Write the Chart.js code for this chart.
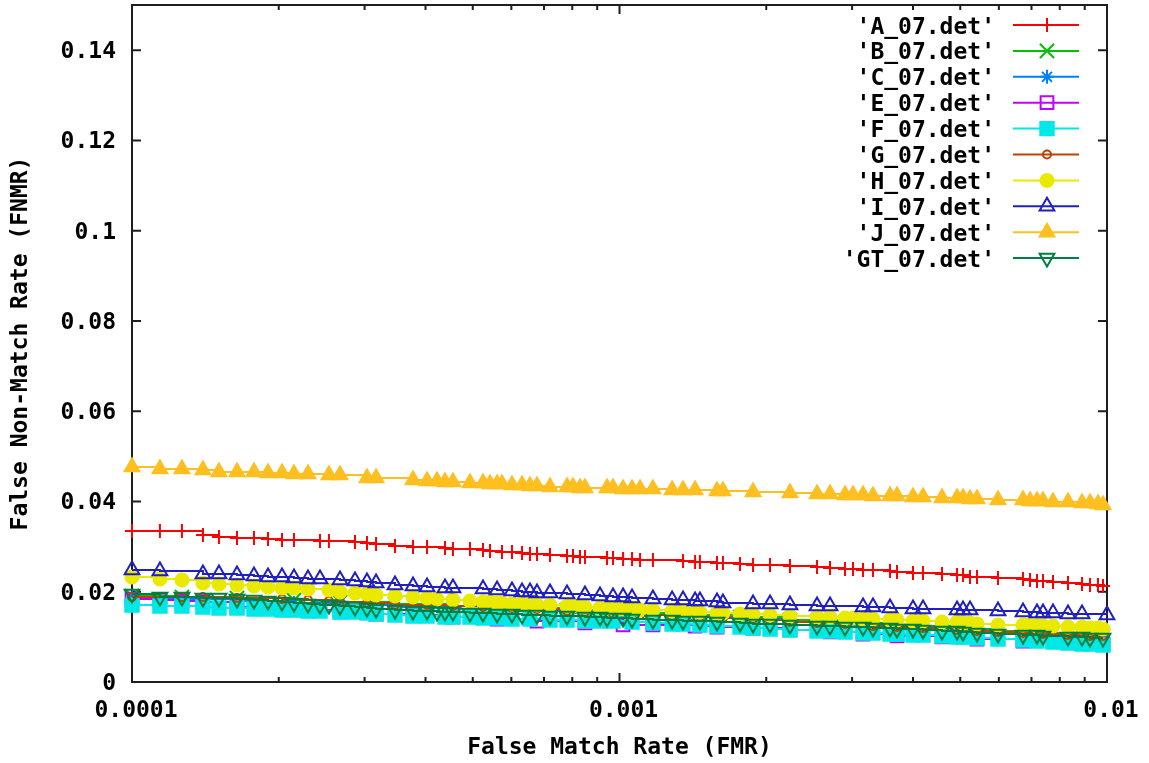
<!DOCTYPE html>
<html>
<head>
<meta charset="utf-8">
<script src="https://cdn.jsdelivr.net/npm/chart.js@4.4.1/dist/chart.umd.min.js"></script>
<style>
  html, body { margin: 0; padding: 0; background: #fff; }
  #wrap { width: 1149px; height: 763px; }
</style>
</head>
<body>
<div id="wrap"><canvas id="det"></canvas></div>
<script>
/* DET curves.
   x = False Match Rate (log), y = False Non-Match Rate. */

const fmrTickValues = [0.0001, 0.001, 0.01];
const fmrTickLabels = ['0.0001', '0.001', '0.01'];
const fnmrTickValues = [0, 0.02, 0.04, 0.06, 0.08, 0.1, 0.12, 0.14];
const fnmrTickLabels = ['0', '0.02', '0.04', '0.06', '0.08', '0.1', '0.12', '0.14'];

const seriesNames = ["'A_07.det'", "'B_07.det'", "'C_07.det'", "'E_07.det'", "'F_07.det'",
                     "'G_07.det'", "'H_07.det'", "'I_07.det'", "'J_07.det'", "'GT_07.det'"];

const fmrA = [
  1.000e-4, 1.141e-4, 1.266e-4, 1.398e-4, 1.508e-4, 1.642e-4, 1.779e-4, 1.901e-4, 2.031e-4, 2.149e-4,
  2.430e-4, 2.535e-4, 2.867e-4, 3.034e-4, 3.167e-4, 3.463e-4, 3.771e-4, 4.029e-4, 4.386e-4, 4.554e-4,
  4.935e-4, 5.248e-4, 5.425e-4, 5.741e-4, 6.018e-4, 6.310e-4, 6.552e-4, 6.772e-4, 7.201e-4, 7.804e-4,
  8.028e-4, 8.298e-4, 8.495e-4, 9.428e-4, 9.698e-4, 1.017e-3, 1.061e-3, 1.102e-3, 1.171e-3, 1.350e-3,
  1.429e-3, 1.462e-3, 1.585e-3, 1.630e-3, 1.767e-3, 1.879e-3, 2.036e-3, 2.237e-3, 2.542e-3, 2.703e-3,
  2.901e-3, 3.013e-3, 3.159e-3, 3.311e-3, 3.588e-3, 3.709e-3, 4.000e-3, 4.194e-3, 4.587e-3, 4.925e-3,
  5.066e-3, 5.236e-3, 5.412e-3, 5.976e-3, 6.725e-3, 6.952e-3, 7.185e-3, 7.392e-3, 7.749e-3, 8.318e-3,
  8.887e-3, 9.229e-3, 9.583e-3, 9.813e-3];
const fnmrA = [
  .03345, .03345, .03345, .03256, .03212, .0319, .0319, .03167, .03145, .03145,
  .03123, .03123, .03101, .03079, .03057, .03012, .0299, .0299, .02968, .02946,
  .02946, .02924, .02902, .0288, .0288, .02857, .02835, .02835, .02813, .02791,
  .02791, .02769, .02769, .02747, .02747, .02724, .02724, .02702, .02702, .0268,
  .02658, .02658, .02636, .02636, .02614, .02592, .02592, .02569, .02547, .02525,
  .02503, .02503, .02481, .02481, .02459, .02437, .02414, .02414, .02392, .0237,
  .0237, .02326, .02326, .02304, .02281, .02259, .02237, .02237, .02215, .02193,
  .02171, .02149, .02149, .02126];

// B and C are almost hidden under the others: fewer points read
const fmrB = [
  1.000e-4, 1.266e-4, 1.642e-4, 2.149e-4, 2.671e-4, 3.463e-4, 4.554e-4, 6.018e-4, 7.804e-4, 1.017e-3,
  1.350e-3, 1.767e-3, 2.237e-3, 2.901e-3, 3.709e-3, 4.925e-3, 5.976e-3, 7.392e-3, 8.887e-3, 9.813e-3];
const fnmrB = [
  .01905, .01883, .01861, .01816, .01772, .01728, .01683, .01639, .01595, .01528,
  .01484, .0144, .01373, .01307, .0124, .01174, .0113, .01085, .01041, .01019];

const fmrC = [
  1.000e-4, 1.266e-4, 1.642e-4, 2.149e-4, 2.671e-4, 3.463e-4, 4.554e-4, 6.018e-4, 7.804e-4, 1.017e-3,
  1.350e-3, 1.767e-3, 2.237e-3, 2.901e-3, 3.709e-3, 4.925e-3, 5.976e-3, 7.392e-3, 8.887e-3, 9.813e-3];
const fnmrC = [
  .01861, .01838, .01794, .0175, .01706, .01661, .01617, .01573, .01528, .01484,
  .0144, .01395, .01329, .01263, .01218, .01152, .01108, .01063, .01019, .00997];

const fmrE = [
  1.000e-4, 1.141e-4, 1.266e-4, 1.398e-4, 1.642e-4, 1.901e-4, 2.296e-4, 2.671e-4, 3.167e-4, 3.771e-4,
  4.554e-4, 5.608e-4, 6.772e-4, 8.495e-4, 1.017e-3, 1.171e-3, 1.429e-3, 1.585e-3, 1.879e-3, 2.237e-3,
  2.703e-3, 3.159e-3, 3.709e-3, 4.587e-3, 5.412e-3, 6.725e-3, 7.749e-3, 8.887e-3, 9.813e-3];
const fnmrE = [
  .01838, .01816, .01794, .01772, .01661, .01639, .01595, .01551, .01506, .01484,
  .0144, .01395, .01351, .01307, .01263, .01263, .0124, .01218, .01196, .01152,
  .01108, .01063, .01019, .00997, .00952, .00908, .00908, .00864, .00842];

const fmrF = [
  1.000e-4, 1.141e-4, 1.266e-4, 1.398e-4, 1.508e-4, 1.642e-4, 1.779e-4, 1.901e-4, 2.031e-4, 2.149e-4,
  2.296e-4, 2.430e-4, 2.671e-4, 2.867e-4, 3.034e-4, 3.167e-4, 3.463e-4, 3.771e-4, 4.029e-4, 4.386e-4,
  4.554e-4, 4.935e-4, 5.248e-4, 5.608e-4, 6.018e-4, 6.552e-4, 7.201e-4, 7.804e-4, 8.495e-4, 9.120e-4,
  9.698e-4, 1.061e-3, 1.171e-3, 1.282e-3, 1.350e-3, 1.462e-3, 1.585e-3, 1.767e-3, 1.879e-3, 2.036e-3,
  2.237e-3, 2.542e-3, 2.703e-3, 2.901e-3, 3.159e-3, 3.311e-3, 3.588e-3, 3.709e-3, 4.000e-3, 4.194e-3,
  4.587e-3, 4.925e-3, 5.066e-3, 5.412e-3, 5.976e-3, 6.725e-3, 7.185e-3, 7.749e-3, 8.318e-3, 8.887e-3,
  9.229e-3, 9.813e-3];
const fnmrF = [
  .01706, .01683, .01683, .01661, .01639, .01639, .01617, .01617, .01595, .01595,
  .01573, .01573, .01551, .01551, .01528, .01506, .01484, .01462, .01462, .0144,
  .0144, .0144, .01418, .01418, .01395, .01395, .01373, .01373, .01351, .01351,
  .01351, .01329, .01307, .01285, .01285, .01263, .0124, .01218, .01196, .01174,
  .01152, .0113, .0113, .01108, .01085, .01085, .01063, .01063, .01041, .01041,
  .01019, .00997, .00997, .00975, .00952, .0093, .00908, .00886, .00864, .00842,
  .00842, .0082];

const fmrG = [
  1.000e-4, 1.266e-4, 1.398e-4, 1.642e-4, 2.031e-4, 2.296e-4, 2.535e-4, 2.671e-4, 3.034e-4, 3.463e-4,
  4.029e-4, 4.554e-4, 5.248e-4, 6.018e-4, 6.772e-4, 7.804e-4, 8.495e-4, 9.698e-4, 1.102e-3, 1.282e-3,
  1.462e-3, 1.630e-3, 1.879e-3, 2.036e-3, 2.237e-3, 2.542e-3, 2.901e-3, 3.311e-3, 3.709e-3, 4.194e-3,
  4.925e-3, 5.412e-3, 5.976e-3, 6.725e-3, 7.392e-3, 8.318e-3, 9.229e-3, 9.813e-3];
const fnmrG = [
  .01883, .01883, .01883, .01861, .01838, .01816, .01794, .01772, .0175, .01706,
  .01706, .01683, .01661, .01639, .01617, .01573, .01551, .01506, .01484, .01462,
  .0144, .01418, .01395, .01373, .01329, .01307, .01285, .0124, .01218, .01196,
  .01152, .0113, .01108, .01085, .01063, .01041, .01019, .01019];

const fmrH = [
  1.000e-4, 1.141e-4, 1.266e-4, 1.398e-4, 1.508e-4, 1.642e-4, 1.779e-4, 1.901e-4, 2.031e-4, 2.149e-4,
  2.296e-4, 2.535e-4, 2.671e-4, 2.867e-4, 3.034e-4, 3.167e-4, 3.463e-4, 3.771e-4, 4.029e-4, 4.223e-4,
  4.554e-4, 4.935e-4, 5.248e-4, 5.425e-4, 5.608e-4, 5.741e-4, 6.018e-4, 6.310e-4, 6.552e-4, 6.772e-4,
  7.201e-4, 7.804e-4, 8.028e-4, 8.298e-4, 8.495e-4, 9.120e-4, 9.428e-4, 9.698e-4, 1.017e-3, 1.061e-3,
  1.102e-3, 1.171e-3, 1.282e-3, 1.350e-3, 1.429e-3, 1.462e-3, 1.585e-3, 1.630e-3, 1.767e-3, 1.879e-3,
  2.036e-3, 2.237e-3, 2.542e-3, 2.703e-3, 2.901e-3, 3.013e-3, 3.159e-3, 3.311e-3, 3.588e-3, 3.709e-3,
  4.000e-3, 4.194e-3, 4.587e-3, 4.925e-3, 5.066e-3, 5.236e-3, 5.412e-3, 5.976e-3, 6.725e-3, 6.952e-3,
  7.185e-3, 7.392e-3, 7.749e-3, 8.318e-3, 8.887e-3, 9.229e-3, 9.583e-3, 9.813e-3];
const fnmrH = [
  .02326, .02281, .02259, .02193, .02171, .02149, .02126, .02104, .02082, .02082,
  .0206, .02038, .01994, .01971, .01949, .01927, .01905, .01883, .01861, .01838,
  .01816, .01794, .01772, .01772, .0175, .0175, .01728, .01728, .01706, .01706,
  .01706, .01683, .01683, .01661, .01661, .01639, .01639, .01639, .01617, .01617,
  .01595, .01595, .01573, .01573, .01551, .01551, .01528, .01528, .01506, .01506,
  .01484, .01462, .0144, .0144, .01418, .01418, .01395, .01395, .01373, .01373,
  .01351, .01351, .01329, .01329, .01307, .01307, .01285, .01263, .01263, .01263,
  .0124, .0124, .0124, .01218, .01218, .01196, .01196, .01174];

const fmrI = [
  1.000e-4, 1.141e-4, 1.398e-4, 1.508e-4, 1.642e-4, 1.779e-4, 1.901e-4, 2.031e-4, 2.149e-4, 2.296e-4,
  2.430e-4, 2.671e-4, 2.867e-4, 3.034e-4, 3.167e-4, 3.463e-4, 3.771e-4, 4.029e-4, 4.386e-4, 4.554e-4,
  5.248e-4, 5.608e-4, 6.018e-4, 6.310e-4, 6.552e-4, 6.772e-4, 7.201e-4, 7.804e-4, 8.495e-4, 9.120e-4,
  9.698e-4, 1.017e-3, 1.061e-3, 1.171e-3, 1.282e-3, 1.350e-3, 1.429e-3, 1.462e-3, 1.585e-3, 1.630e-3,
  1.879e-3, 2.036e-3, 2.237e-3, 2.542e-3, 2.703e-3, 3.159e-3, 3.311e-3, 3.588e-3, 4.000e-3, 4.194e-3,
  4.925e-3, 5.066e-3, 5.236e-3, 5.976e-3, 6.725e-3, 7.185e-3, 7.392e-3, 7.749e-3, 8.318e-3, 8.887e-3,
  1.000e-2];
const fnmrI = [
  .02481, .02459, .02392, .02392, .0237, .02348, .02326, .02326, .02304, .02281,
  .02281, .02259, .02237, .02215, .02193, .02149, .02126, .02104, .02082, .02082,
  .0206, .02038, .02016, .01994, .01994, .01971, .01971, .01949, .01927, .01905,
  .01883, .01883, .01861, .01838, .01816, .01816, .01794, .01794, .01772, .0175,
  .01728, .01728, .01706, .01683, .01683, .01661, .01661, .01639, .01617, .01617,
  .01595, .01595, .01595, .01573, .01551, .01528, .01528, .01528, .01506, .01506,
  .01484];

const fmrJ = [
  1.000e-4, 1.141e-4, 1.266e-4, 1.398e-4, 1.508e-4, 1.642e-4, 1.779e-4, 1.901e-4, 2.031e-4, 2.149e-4,
  2.296e-4, 2.535e-4, 2.671e-4, 3.034e-4, 3.167e-4, 3.771e-4, 4.029e-4, 4.223e-4, 4.386e-4, 4.554e-4,
  4.935e-4, 5.248e-4, 5.425e-4, 5.608e-4, 5.741e-4, 6.018e-4, 6.310e-4, 6.552e-4, 6.772e-4, 7.201e-4,
  7.804e-4, 8.028e-4, 8.298e-4, 8.495e-4, 9.428e-4, 9.698e-4, 1.017e-3, 1.061e-3, 1.102e-3, 1.171e-3,
  1.282e-3, 1.350e-3, 1.429e-3, 1.585e-3, 1.630e-3, 1.879e-3, 2.237e-3, 2.542e-3, 2.703e-3, 2.901e-3,
  3.013e-3, 3.159e-3, 3.311e-3, 3.588e-3, 3.709e-3, 4.000e-3, 4.194e-3, 4.587e-3, 4.925e-3, 5.066e-3,
  5.236e-3, 5.412e-3, 5.976e-3, 6.725e-3, 6.952e-3, 7.185e-3, 7.392e-3, 7.749e-3, 8.318e-3, 8.887e-3,
  9.229e-3, 9.583e-3, 9.813e-3];
const fnmrJ = [
  .04762, .04718, .04718, .04696, .04651, .04651, .04651, .04629, .04629, .04607,
  .04607, .04585, .04585, .04518, .04518, .04474, .04452, .04452, .0443, .0443,
  .04408, .04408, .04386, .04386, .04386, .04364, .04364, .04341, .04341, .04319,
  .04319, .04319, .04297, .04297, .04297, .04297, .04275, .04275, .04275, .04275,
  .04253, .04253, .04253, .04231, .04231, .04209, .04186, .04164, .04164, .04142,
  .04142, .04142, .0412, .0412, .0412, .04098, .04098, .04076, .04076, .04076,
  .04053, .04053, .04031, .04031, .04009, .04009, .04009, .03987, .03987, .03965,
  .03965, .03943, .0392];

const fmrGT = [
  1.000e-4, 1.141e-4, 1.266e-4, 1.398e-4, 1.508e-4, 1.642e-4, 1.779e-4, 1.901e-4, 2.031e-4, 2.149e-4,
  2.296e-4, 2.430e-4, 2.535e-4, 2.671e-4, 2.867e-4, 3.034e-4, 3.167e-4, 3.463e-4, 3.771e-4, 4.029e-4,
  4.223e-4, 4.386e-4, 4.554e-4, 4.935e-4, 5.248e-4, 5.608e-4, 6.018e-4, 6.310e-4, 6.772e-4, 7.201e-4,
  7.804e-4, 8.495e-4, 9.120e-4, 9.428e-4, 1.017e-3, 1.061e-3, 1.171e-3, 1.282e-3, 1.350e-3, 1.462e-3,
  1.585e-3, 1.767e-3, 1.879e-3, 2.036e-3, 2.237e-3, 2.542e-3, 2.703e-3, 2.901e-3, 3.159e-3, 3.311e-3,
  3.588e-3, 3.709e-3, 4.000e-3, 4.194e-3, 4.587e-3, 4.925e-3, 5.066e-3, 5.412e-3, 5.976e-3, 6.725e-3,
  7.185e-3, 7.392e-3, 8.318e-3, 8.887e-3, 9.229e-3, 9.813e-3];
const fnmrGT = [
  .01949, .01883, .01883, .01861, .01861, .01838, .01816, .01794, .01772, .0175,
  .01728, .01706, .01706, .01683, .01661, .01639, .01617, .01595, .01573, .01573,
  .01551, .01551, .01551, .01528, .01528, .01506, .01506, .01484, .01484, .01462,
  .01462, .0144, .0144, .01418, .01418, .01395, .01373, .01373, .01351, .01351,
  .01329, .01307, .01285, .01285, .01263, .0124, .0124, .01218, .01218, .01196,
  .01196, .01174, .01174, .01152, .0113, .0113, .01108, .01085, .01063, .01041,
  .01041, .01019, .00997, .00997, .00975, .00975];

const seriesFmr  = [fmrA, fmrB, fmrC, fmrE, fmrF, fmrG, fmrH, fmrI, fmrJ, fmrGT];
const seriesFnmr = [fnmrA, fnmrB, fnmrC, fnmrE, fnmrF, fnmrG, fnmrH, fnmrI, fnmrJ, fnmrGT];

// gnuplot-like look for each curve
const looks = [
  { color: '#ff0000', style: 'cross',    r: 7,   filled: true },
  { color: '#00c000', style: 'crossRot', r: 10,  filled: true },
  { color: '#0080ff', style: 'star',     r: 7,   filled: true },
  { color: '#c000ff', style: 'rect',     r: 9,   filled: false },
  { color: '#00e8e8', style: 'rect',     r: 9.5, filled: true },
  { color: '#c04000', style: 'circle',   r: 4,   filled: false },
  { color: '#eaea00', style: 'circle',   r: 6.5, filled: true },
  { color: '#2020c0', style: 'triangle', r: 8.5, filled: false },
  { color: '#ffbf20', style: 'triangle', r: 8.5, filled: true },
  { color: '#008040', style: 'triangle', r: 8.5, filled: false, rot: 180 },
];

const FONT = '"DejaVu Sans Mono", "Liberation Mono", monospace';
const textFont = { family: FONT, size: 23, weight: 'bold' };

const datasets = seriesNames.map((name, i) => {
  const look = looks[i];
  return {
    label: name,
    data: seriesFmr[i].map((fx, k) => ({ x: fx, y: seriesFnmr[i][k] })),
    borderColor: look.color,
    backgroundColor: look.color,
    borderWidth: 2,
    stepped: true,
    pointStyle: look.style,
    pointRadius: look.r,
    pointRotation: look.rot || 0,
    pointBorderWidth: 2,
    pointBorderColor: look.color,
    pointBackgroundColor: look.filled ? look.color : 'rgba(0,0,0,0)',
    fill: false,
    clip: false,
    order: seriesNames.length - i,   // later files on top, as gnuplot does
  };
});

// Border, inward tick marks and the key, drawn the gnuplot way
const gnuplotFrame = {
  id: 'gnuplotFrame',
  beforeDatasetsDraw(chart) {
    const { ctx, chartArea: a, scales: { x, y } } = chart;
    ctx.save();
    ctx.strokeStyle = '#1e1e1e';
    ctx.lineWidth = 2;
    ctx.strokeRect(a.left, a.top, a.right - a.left, a.bottom - a.top);
    ctx.beginPath();
    fnmrTickValues.forEach(v => {
      const py = y.getPixelForValue(v);
      ctx.moveTo(a.left, py);  ctx.lineTo(a.left + 9, py);
      ctx.moveTo(a.right, py); ctx.lineTo(a.right - 9, py);
    });
    [1e-4, 1e-3, 1e-2].forEach(dec => {
      for (let m = 1; m <= 9; m++) {
        const v = dec * m;
        if (v > 0.01 * 1.0001) break;
        const len = m === 1 ? 9 : 5;
        const px = x.getPixelForValue(v);
        ctx.moveTo(px, a.bottom); ctx.lineTo(px, a.bottom - len);
        ctx.moveTo(px, a.top);    ctx.lineTo(px, a.top + len);
      }
    });
    ctx.stroke();
    ctx.restore();
  },
  afterDatasetsDraw(chart) {
    const { ctx } = chart;
    ctx.save();
    ctx.font = 'bold 23px ' + FONT;
    ctx.textAlign = 'right';
    ctx.textBaseline = 'alphabetic';
    chart.data.datasets.forEach((ds, i) => {
      const ry = 25 + i * 25.9;
      ctx.fillStyle = '#000';
      ctx.fillText(ds.label, 995, ry + 8.5);
      ctx.strokeStyle = ds.borderColor;
      ctx.lineWidth = 2;
      ctx.beginPath();
      ctx.moveTo(1013, ry);
      ctx.lineTo(1079, ry);
      ctx.stroke();
      ctx.fillStyle = ds.pointBackgroundColor;
      ctx.strokeStyle = ds.pointBorderColor;
      ctx.lineWidth = ds.pointBorderWidth;
      Chart.helpers.drawPoint(ctx, {
        pointStyle: ds.pointStyle,
        rotation: ds.pointRotation,
        radius: ds.pointRadius,
        borderWidth: ds.pointBorderWidth,
      }, 1047, ry);
    });
    ctx.restore();
  },
};

new Chart(document.getElementById('det'), {
  type: 'line',
  data: { datasets },
  plugins: [gnuplotFrame],
  options: {
    responsive: true,
    maintainAspectRatio: false,
    animation: false,
    events: [],
    layout: { autoPadding: false, padding: { left: 0, right: 42, top: 5, bottom: 0 } },
    plugins: {
      legend: { display: false },
      tooltip: { enabled: false },
    },
    scales: {
      x: {
        type: 'logarithmic',
        min: 0.0001,
        max: 0.01,
        afterBuildTicks: s => { s.ticks = fmrTickValues.map(v => ({ value: v })); },
        afterFit: s => { s.height = 81; s.paddingLeft = 0; s.paddingRight = 0; },
        grid: { display: false, drawTicks: false },
        border: { display: false },
        ticks: {
          autoSkip: false,
          maxRotation: 0,
          padding: 15,
          labelOffset: 4,
          color: '#000',
          font: textFont,
          callback: (v, i) => fmrTickLabels[i],
        },
        title: {
          display: true,
          text: 'False Match Rate (FMR)',
          color: '#000',
          font: textFont,
          padding: { top: 0, bottom: 1 },
        },
      },
      y: {
        type: 'linear',
        min: 0,
        max: 0.15,
        afterBuildTicks: s => { s.ticks = fnmrTickValues.map(v => ({ value: v })); },
        afterFit: s => { s.width = 132; s.paddingTop = 0; s.paddingBottom = 0; },
        grid: { display: false, drawTicks: false },
        border: { display: false },
        ticks: {
          padding: 16,
          labelOffset: 2,
          color: '#000',
          font: textFont,
          callback: (v, i) => fnmrTickLabels[i],
        },
        title: {
          display: true,
          text: 'False Non-Match Rate (FNMR)',
          color: '#000',
          font: textFont,
          padding: { top: 7, bottom: 0 },
        },
      },
    },
  },
});
</script>
</body>
</html>
